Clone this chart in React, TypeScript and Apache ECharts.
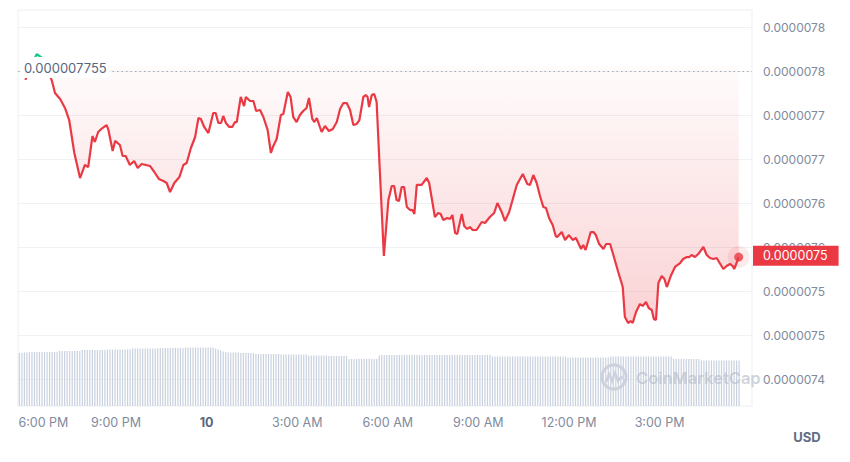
import React, { useEffect, useRef } from "react";
import * as echarts from "echarts";

// Hours after 6:00 PM (day 9) and price in millionths of a USD
const HOURS = [
  0.0, 0.15, 0.38, 0.55, 0.72, 0.88, 0.98, 1.15, 1.31, 1.45,
  1.62, 1.81, 1.97, 2.08, 2.22, 2.3, 2.41, 2.55, 2.69, 2.75,
  2.89, 2.97, 3.13, 3.22, 3.32, 3.46, 3.6, 3.72, 3.85, 3.99,
  4.13, 4.29, 4.42, 4.57, 4.68, 4.79, 4.93, 5.1, 5.23, 5.34,
  5.48, 5.62, 5.73, 5.81, 5.92, 6.06, 6.22, 6.3, 6.39, 6.48,
  6.55, 6.64, 6.75, 6.85, 6.94, 7.0, 7.13, 7.24, 7.3, 7.44,
  7.55, 7.64, 7.77, 7.88, 8.02, 8.13, 8.21, 8.32, 8.46, 8.54,
  8.69, 8.78, 8.87, 8.98, 9.09, 9.2, 9.31, 9.39, 9.5, 9.57,
  9.65, 9.75, 9.81, 9.92, 10.05, 10.18, 10.31, 10.42, 10.53, 10.64,
  10.75, 10.86, 10.97, 11.06, 11.19, 11.27, 11.33, 11.38, 11.47, 11.55,
  11.63, 11.74, 11.87, 12.02, 12.13, 12.21, 12.29, 12.37, 12.46, 12.54,
  12.63, 12.74, 12.82, 12.88, 12.96, 13.12, 13.29, 13.37, 13.56, 13.67,
  13.75, 13.84, 13.97, 14.06, 14.14, 14.23, 14.3, 14.45, 14.53, 14.63,
  14.72, 14.81, 14.94, 15.11, 15.22, 15.38, 15.52, 15.63, 15.77, 15.88,
  16.02, 16.27, 16.47, 16.62, 16.71, 16.82, 16.93, 17.04, 17.15, 17.24,
  17.34, 17.46, 17.56, 17.61, 17.76, 17.87, 18.0, 18.12, 18.23, 18.4,
  18.47, 18.55, 18.72, 18.81, 18.89, 19.0, 19.14, 19.23, 19.36, 19.47,
  19.63, 19.78, 19.85, 19.96, 20.04, 20.11, 20.22, 20.35, 20.44, 20.55,
  20.64, 20.74, 20.81, 20.88, 20.96, 21.07, 21.16, 21.24, 21.37, 21.51,
  21.68, 21.78, 21.9, 21.98, 22.06, 22.17, 22.28, 22.45, 22.56, 22.67,
  22.78, 22.89, 23.11, 23.22, 23.33, 23.42, 23.47, 23.55, 23.62,
];

const PRICES = [
  7.7398, 7.7534, 7.7693, 7.7648, 7.7534, 7.7386, 7.725, 7.7182, 7.708, 7.6943,
  7.6568, 7.6284, 7.6432, 7.6409, 7.6761, 7.6693, 7.6807, 7.6852, 7.6886, 7.683,
  7.6591, 7.6705, 7.6659, 7.6534, 7.6534, 7.6432, 7.6477, 7.6398, 7.6443, 7.6432,
  7.642, 7.6341, 7.6273, 7.625, 7.6227, 7.6125, 7.6227, 7.6295, 7.6432, 7.6455,
  7.6625, 7.675, 7.6966, 7.6955, 7.6864, 7.6795, 7.7023, 7.7023, 7.6909, 7.6909,
  7.6989, 7.6909, 7.6864, 7.6864, 7.692, 7.692, 7.7205, 7.7102, 7.7205, 7.7159,
  7.7159, 7.7045, 7.7057, 7.6977, 7.683, 7.6568, 7.6648, 7.6727, 7.7, 7.7011,
  7.7261, 7.7205, 7.6977, 7.692, 7.7, 7.7045, 7.708, 7.7193, 7.6955, 7.692,
  7.6966, 7.6864, 7.6807, 7.6875, 7.6818, 7.6841, 7.692, 7.7068, 7.7136, 7.7136,
  7.7057, 7.6886, 7.6898, 7.6943, 7.7205, 7.7227, 7.7205, 7.7091, 7.7227, 7.7239,
  7.7148, 7.6341, 7.5398, 7.6034, 7.6193, 7.6193, 7.6034, 7.6023, 7.6182, 7.6182,
  7.5955, 7.592, 7.592, 7.5875, 7.6205, 7.6205, 7.6284, 7.6227, 7.5841, 7.5886,
  7.5875, 7.5807, 7.583, 7.5818, 7.5864, 7.5659, 7.5648, 7.5875, 7.5739, 7.5705,
  7.5727, 7.5693, 7.5693, 7.5784, 7.5773, 7.5841, 7.5886, 7.6, 7.5898, 7.5795,
  7.5898, 7.6205, 7.633, 7.6216, 7.6205, 7.6318, 7.6227, 7.608, 7.5955, 7.5943,
  7.583, 7.575, 7.5625, 7.5614, 7.567, 7.558, 7.5636, 7.558, 7.5602, 7.5477,
  7.5523, 7.5466, 7.567, 7.567, 7.5636, 7.5534, 7.5477, 7.5534, 7.5534, 7.5409,
  7.5216, 7.5045, 7.4705, 7.4636, 7.4659, 7.4636, 7.4761, 7.4852, 7.483, 7.4875,
  7.4807, 7.4784, 7.4682, 7.467, 7.5091, 7.517, 7.5136, 7.5045, 7.517, 7.5273,
  7.5318, 7.5364, 7.5386, 7.5386, 7.5409, 7.5386, 7.542, 7.55, 7.5409, 7.5375,
  7.5364, 7.5375, 7.525, 7.5284, 7.5307, 7.5284, 7.525, 7.5318, 7.5386,
];

const OPEN_PRICE = 7.755;

// 5-minute volume bars starting at VOLUME_START hours
const VOLUME_START = -0.2;
const VOLUME_STEP = 1 / 12;
const VOLUMES = [
  53, 53, 53.5, 53.5,
  54, 54, 54, 54, 54, 54, 54, 54, 54, 54, 54, 54,
  55, 55, 55, 55, 55, 55, 55, 55, 55,
  56, 56, 56, 56, 56, 56, 56, 56, 56, 56, 56.5, 56.5, 56.5, 56.5, 56.5, 56.5, 56.5, 56.5, 56.5, 56.5,
  57.5, 57.5, 57.5, 57.5, 57.5, 57.5, 57.5, 57.5, 57.5, 57.5, 57.5, 58, 58, 58, 58, 58, 58, 58, 58, 58, 58,
  58.5, 58.5, 58.5, 58.5, 58.5, 58.5, 58.5, 58.5, 58.5, 58.5, 58.5, 58.5,
  57.5, 56.5, 55.5, 54.5, 54,
  53.5, 53.5, 53.5, 53.5, 53.5, 53, 53, 53, 53, 53, 53,
  52, 52, 52, 52, 52, 52, 52, 52, 52, 52, 51.5, 51.5, 51.5, 51.5, 51.5, 51.5, 51.5, 51.5, 51.5, 51.5, 51.5,
  50.5, 50.5, 50.5, 50.5, 50.5, 50.5, 50.5, 50.5, 50, 50, 50, 50, 50, 50, 50, 50,
  47, 47, 47, 47, 47, 47, 47, 47, 47, 47, 47, 47,
  50.5, 51, 51, 51, 51, 51, 51, 51, 51, 51, 51, 51, 51, 51, 51, 51, 51, 51, 51, 51, 51, 51, 51,
  51, 51, 51, 51, 51, 51, 51, 51, 51, 51, 51, 51, 51, 51, 51, 51, 51, 51, 51, 51, 51, 51,
  49.5, 49.5, 49.5, 49.5, 49.5, 49.5, 49.5, 49.5, 49.5, 49.5, 49.5, 49.5, 49.5, 49.5, 49.5,
  49.5, 49.5, 49.5, 49.5, 49.5, 49.5, 49.5, 49.5, 49.5, 49.5, 49.5, 49.5, 49.5, 49.5, 49.5,
  48.5, 48.5, 48.5, 48.5, 48.5, 48.5, 48.5, 48.5, 48.5, 48.5, 48.5, 48.5, 48.5, 48.5, 48.5, 48.5, 48.5,
  49.5, 49.5, 49.5, 49.5, 49.5, 49.5, 49.5, 49.5, 49.5, 49.5, 49.5, 49.5, 49.5, 49.5, 49.5, 49.5, 49.5, 49.5, 49.5, 49.5, 49.5, 49.5, 49.5, 49.5, 49.5,
  47, 47, 47, 47, 47, 47, 47, 47, 47, 47, 47,
  45.5, 45.5, 45.5, 45.5, 45.5, 45.5, 45.5, 45.5, 45.5, 45.5, 45.5, 45.5, 45.5, 45.5, 45.5, 45.5,
];
const VOLUME_AXIS_MAX = 396;

const X_MIN = -0.245;
const X_MAX = 24.06;
const TICK_HOURS = [0, 3, 6, 9, 12, 15, 18, 21];
const TICK_LABELS = ["6:00 PM", "9:00 PM", "10", "3:00 AM", "6:00 AM", "9:00 AM", "12:00 PM", "3:00 PM"];

const Y_MIN = 7.4;
const Y_MAX = 7.8;
const Y_INTERVAL = 0.05;

const RED = "#ea3943";
const GREEN = "#16c784";
const LABEL_GRAY = "#808a9d";
const DARK_GRAY = "#58667e";
const DOT_GRAY = "#a3abb9";
const WATERMARK = "rgba(186,193,206,0.7)";
const FONT = "Inter, 'Noto Sans', sans-serif";

const fmtAxis = (v: number) => {
  const r = Math.round(v * 10 + 1e-6) / 10;
  return (r * 1e-6).toFixed(7);
};

export default function App() {
  const ref = useRef<HTMLDivElement>(null);

  useEffect(() => {
    if (!ref.current) return;
    const chart = echarts.init(ref.current, null, { renderer: "svg" });
    const lineData = HOURS.map((h, i) => [h, PRICES[i]]);
    const last = lineData[lineData.length - 1];
    const volData = VOLUMES.map((v, i) => [VOLUME_START + i * VOLUME_STEP, v]);

    const option: any = {
      animation: false,
      backgroundColor: "#ffffff",
      textStyle: { fontFamily: FONT },
      grid: [
        { left: 18, right: 98, top: 27, bottom: 83 },
        {
          left: 18, right: 98, top: 10, bottom: 56,
          show: true, borderColor: "#eceff3", borderWidth: 1, backgroundColor: "transparent",
        },
      ],
      xAxis: [
        { type: "value", gridIndex: 0, min: X_MIN, max: X_MAX, show: false },
        {
          type: "value", gridIndex: 1, min: X_MIN, max: X_MAX,
          axisLine: { show: false }, axisTick: { show: false }, splitLine: { show: false },
          axisLabel: {
            customValues: TICK_HOURS,
            margin: 10,
            color: LABEL_GRAY,
            fontSize: 12.5,
            fontFamily: FONT,
            formatter: (v: number) => {
              const i = TICK_HOURS.findIndex((t) => Math.abs(t - v) < 1e-6);
              if (i < 0) return "";
              if (i === 0) return `{first|${TICK_LABELS[i]}}`;
              if (TICK_LABELS[i].length <= 2) return `{day|${TICK_LABELS[i]}}`;
              return TICK_LABELS[i];
            },
            rich: {
              first: { padding: [0, 0, 0, 36], color: LABEL_GRAY, fontSize: 12.5, fontFamily: FONT },
              day: { fontWeight: "bold", color: DARK_GRAY, fontSize: 12.5, fontFamily: FONT },
            },
          },
        },
      ],
      yAxis: [
        {
          type: "value", gridIndex: 0, position: "right",
          min: Y_MIN, max: Y_MAX, interval: Y_INTERVAL,
          axisLine: { show: false }, axisTick: { show: false },
          splitLine: { lineStyle: { color: "#eff2f5", width: 1 } },
          axisLabel: { margin: 11, color: LABEL_GRAY, fontSize: 12, fontFamily: FONT, formatter: fmtAxis },
        },
        { type: "value", gridIndex: 1, min: 0, max: VOLUME_AXIS_MAX, show: false },
      ],
      visualMap: {
        show: false, type: "piecewise", seriesIndex: 1, dimension: 1,
        pieces: [
          { gt: Y_MIN - 1, lte: OPEN_PRICE, color: RED },
          { gt: OPEN_PRICE, lte: Y_MAX + 1, color: GREEN },
        ],
      },
      series: [
        {
          type: "bar", xAxisIndex: 1, yAxisIndex: 1, data: volData,
          barWidth: 1.2, itemStyle: { color: "#c9d1de" }, silent: true, z: 1,
        },
        {
          type: "line", xAxisIndex: 0, yAxisIndex: 0, data: lineData,
          showSymbol: false, symbol: "none",
          lineStyle: { width: 2.2 },
          areaStyle: {
            origin: OPEN_PRICE,
            color: new echarts.graphic.LinearGradient(0, 0, 0, 1, [
              { offset: 0, color: "rgba(234,57,67,0.01)" },
              { offset: 1, color: "rgba(234,57,67,0.32)" },
            ]),
          },
          z: 3,
        },
        {
          type: "scatter", xAxisIndex: 0, yAxisIndex: 0, data: [last],
          symbolSize: 22, itemStyle: { color: "rgba(234,57,67,0.13)" }, silent: true, z: 4,
          markLine: {
            silent: true, symbol: ["none", "none"], animation: false, z: 6,
            lineStyle: { color: DOT_GRAY, type: [1.5, 3], width: 1, opacity: 1 },
            data: [
              {
                yAxis: OPEN_PRICE,
                lineStyle: { color: DOT_GRAY, type: [1.5, 3], width: 1 },
                label: { show: false },
              },
              {
                yAxis: last[1],
                lineStyle: { color: "rgba(0,0,0,0)", width: 0 },
                label: {
                  show: true, position: "end", distance: 1,
                  formatter: () => fmtAxis(last[1]),
                  backgroundColor: RED, color: "#ffffff",
                  padding: [4, 11, 3, 10], fontSize: 12.5, fontFamily: FONT,
                },
              },
            ],
          },
        },
        {
          type: "scatter", xAxisIndex: 0, yAxisIndex: 0, data: [last],
          symbolSize: 9, itemStyle: { color: RED }, silent: true, z: 5,
        },
      ],
    };
    chart.setOption(option);

    const p = chart.convertToPixel({ seriesIndex: 1 }, [0, OPEN_PRICE]) as number[];
    const py = p[1];
    chart.setOption({
      graphic: [
        {
          type: "text", x: 21, y: py + 1, z: 100,
          style: {
            text: (OPEN_PRICE * 1e-6).toFixed(9),
            fill: DARK_GRAY, fontSize: 13, fontFamily: FONT,
            verticalAlign: "middle", align: "left",
            backgroundColor: "#ffffff", padding: [4, 3, 4, 3], borderRadius: 3,
          },
        },
        {
          type: "text", x: 807, y: 437, z: 100,
          style: {
            text: "USD", fill: "#616e85", fontSize: 13, fontWeight: "bold", fontFamily: FONT,
            align: "center", verticalAlign: "middle",
          },
        },
        {
          type: "group", x: 614, y: 377, z: 50, silent: true,
          children: [
            {
              type: "circle", shape: { cx: 0, cy: 0, r: 12 },
              style: { fill: "none", stroke: WATERMARK, lineWidth: 3 },
            },
            {
              type: "polyline",
              shape: { points: [[-8, 5], [-5, -3], [-2, 4], [1, -4], [4, 4], [7, 0], [9, 1]] },
              style: { fill: "none", stroke: WATERMARK, lineWidth: 2.5 },
            },
          ],
        },
        {
          type: "text", x: 636, y: 378, z: 50, silent: true,
          style: {
            text: "CoinMarketCap", fill: WATERMARK, fontSize: 16.5, fontWeight: 600,
            fontFamily: FONT, verticalAlign: "middle", align: "left",
          },
        },
      ],
    });

    return () => chart.dispose();
  }, []);

  return (
    <div
      ref={ref}
      style={{ position: "absolute", left: 0, top: 0, width: 850, height: 462, background: "#fff" }}
    />
  );
}
